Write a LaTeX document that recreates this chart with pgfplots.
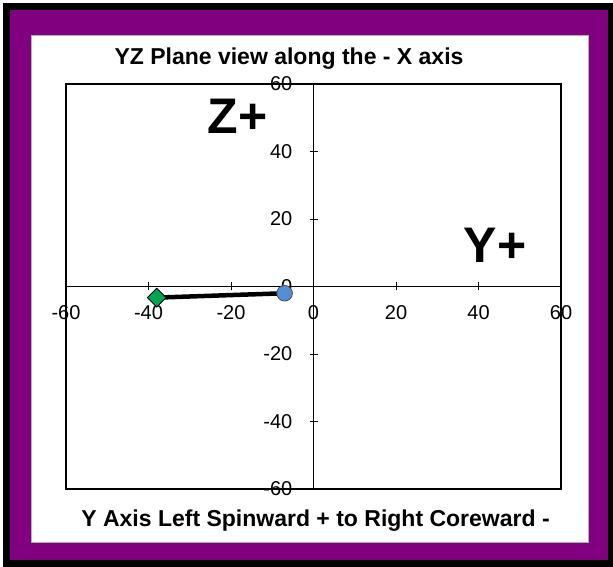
\documentclass[border=0pt]{standalone}
\usepackage{fontspec}
\setmainfont{Liberation Sans}
\usepackage{pgfplots}
\pgfplotsset{compat=1.18}
\definecolor{framepurple}{RGB}{128,0,128}
\definecolor{mkgreen}{RGB}{0,166,81}
\definecolor{mkblue}{RGB}{85,142,213}
\begin{document}
\begin{tikzpicture}[x=1bp,y=1bp]
\useasboundingbox (0,0) rectangle (613,567);
% frame around the chart
\fill[black] (3,0) rectangle (613,564);
\fill[framepurple] (10,7) rectangle (608,557);
\fill[white] (31,25) rectangle (588,532);
\draw[gray!60, line width=0.8bp] (31,25) rectangle (588,532);
\begin{axis}[
  at={(66bp,78bp)}, anchor=south west,
  width=495bp, height=405bp, scale only axis,
  xmin=-60, xmax=60, ymin=-60, ymax=60,
  axis lines=middle,
  axis line style={-, line width=0.8bp},
  xtick={-60,-40,-20,0,20,40,60},
  ytick={-60,-40,-20,0,20,40,60},
  hide obscured x ticks=false, hide obscured y ticks=false,
  tick style={black, line width=0.8bp},
  tick align=center, major tick length=8bp,
  tick label style={font=\fontsize{20bp}{24bp}\selectfont},
  /pgf/number format/assume math mode=true,
  xticklabel style={anchor=north, inner sep=0pt, yshift=-15bp},
  yticklabel style={anchor=east, inner sep=0pt, xshift=-17bp},
  clip=false,
]
\draw[line width=2.5bp] (rel axis cs:0,0) rectangle (rel axis cs:1,1);
\addplot[black, line width=4.5bp, no markers] coordinates {(-38,-3.3) (-7,-2)};
\addplot[only marks, mark=square*, mark size=6.6bp,
  mark options={rotate=45, fill=mkgreen, draw=black, line width=0.8bp}]
  coordinates {(-38,-3.3)};
\addplot[only marks, mark=*, mark size=7.8bp,
  mark options={fill=mkblue, draw=black!70, line width=0.8bp}]
  coordinates {(-7,-2)};
\end{axis}
\node[anchor=base, inner sep=0pt, font=\fontsize{23bp}{27bp}\selectfont\bfseries] at (289,502) {YZ Plane view along the - X axis};
\node[anchor=base, inner sep=0pt, font=\fontsize{23bp}{27bp}\selectfont\bfseries] at (315.5,40) {Y Axis Left Spinward + to Right Coreward -};
\node[anchor=base, inner sep=0pt, font=\fontsize{50bp}{56bp}\selectfont\bfseries] at (237.5,433) {Z+};
\node[anchor=base, inner sep=0pt, font=\fontsize{50bp}{56bp}\selectfont\bfseries] at (495,304) {Y+};
\end{tikzpicture}
\end{document}
